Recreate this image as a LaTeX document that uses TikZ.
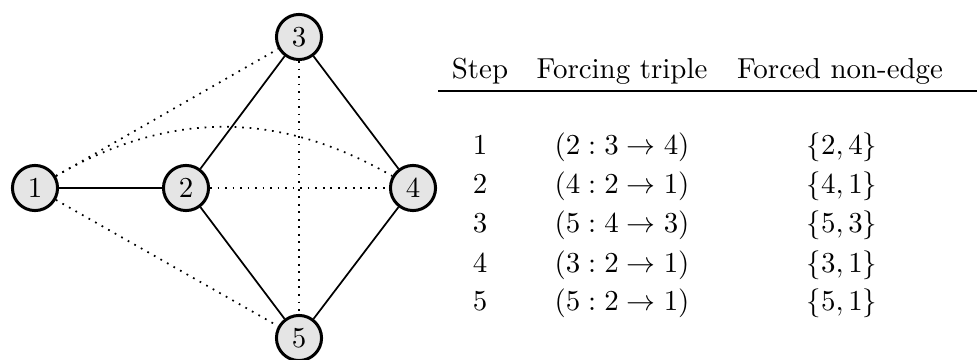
\documentclass[tikz,border=0pt]{standalone}
\begin{document}
\begin{tikzpicture}[x=0.346pt,y=-0.346pt,
  vtx/.style={circle,draw,line width=1.04pt,fill=gray!20,minimum size=15.6pt,inner sep=0pt},
  edgeline/.style={semithick},
  nonedge/.style={semithick,dotted},
  cell/.style={anchor=base,inner sep=0pt}]
\useasboundingbox (0,0) rectangle (977,360);
% vertices
\node[vtx] (v1) at (35,188) {1};
\node[vtx] (v2) at (186,188) {2};
\node[vtx] (v3) at (299,37) {3};
\node[vtx] (v4) at (413,188) {4};
\node[vtx] (v5) at (299,338) {5};
% edges
\draw[edgeline] (v1) -- (v2);
\draw[edgeline] (v2) -- (v3);
\draw[edgeline] (v3) -- (v4);
\draw[edgeline] (v4) -- (v5);
\draw[edgeline] (v5) -- (v2);
% non-edges
\draw[nonedge] (v1) -- (v3);
\draw[nonedge] (v1) -- (v5);
\draw[nonedge] (v2) -- (v4);
\draw[nonedge] (v3) -- (v5);
\draw[nonedge] (v1) to[bend left=30] (v4);
% table header
\node[cell] (hs) at (480,79) {Step};
\node[cell] (ht) at (622,79) {Forcing triple};
\node[cell] (hf) at (840,79) {Forced non-edge};
\coordinate (rl) at (438,91);
\coordinate (rr) at (977,91);
\draw[line width=0.4pt] (rl) -- (rr);
% rows
\node[cell] (s1) at (480,155) {1};
\node[cell] (t1) at (622,155) {$(2:3\to4)$};
\node[cell] (f1) at (842,155) {$\{2,4\}$};
\node[cell] (s2) at (480,194) {2};
\node[cell] (t2) at (622,194) {$(4:2\to1)$};
\node[cell] (f2) at (842,194) {$\{4,1\}$};
\node[cell] (s3) at (480,233) {3};
\node[cell] (t3) at (622,233) {$(5:4\to3)$};
\node[cell] (f3) at (842,233) {$\{5,3\}$};
\node[cell] (s4) at (480,272) {4};
\node[cell] (t4) at (622,272) {$(3:2\to1)$};
\node[cell] (f4) at (842,272) {$\{3,1\}$};
\node[cell] (s5) at (480,311) {5};
\node[cell] (t5) at (622,311) {$(5:2\to1)$};
\node[cell] (f5) at (842,311) {$\{5,1\}$};
\end{tikzpicture}
\end{document}
